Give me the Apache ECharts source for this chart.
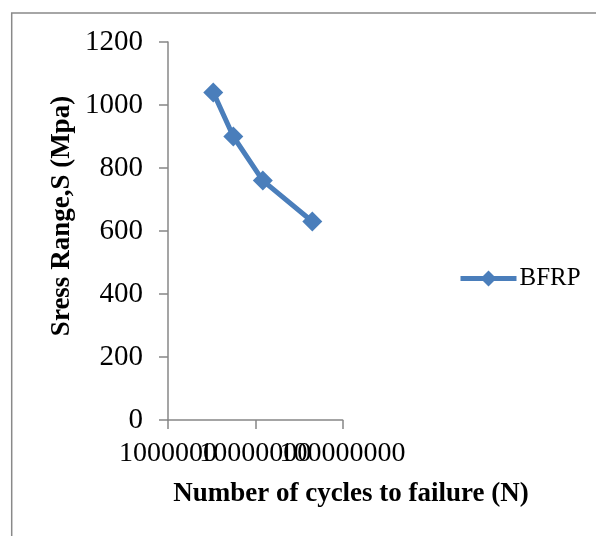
<!DOCTYPE html>
<html>
<head>
<meta charset="utf-8">
<script src="https://cdn.jsdelivr.net/npm/echarts@6/dist/echarts.min.js"></script>
<style>
  html, body { margin: 0; padding: 0; background: #fff; }
  #main { width: 596px; height: 536px; }
</style>
</head>
<body>
<div id="main"></div>
<script>
// S-N data for BFRP
var cycles = [3300000, 5600000, 12200000, 45000000];   // N
var stress = [1040, 900, 760, 630];                      // S (Mpa)
var seriesName = 'BFRP';
var xTicks = [1000000, 10000000, 100000000];
var yMin = 0, yMax = 1200, yStep = 200;

// x axis is logarithmic: plot log10(N) on a value axis, label with N
var points = [];
for (var i = 0; i < cycles.length; i++) {
	points.push([Math.log10(cycles[i]), stress[i]]);
}
var xTickPos = xTicks.map(function (t) { return Math.log10(t); });
var xMin = xTickPos[0], xMax = xTickPos[xTickPos.length - 1];

var axisGray = '#878787';
var serif = '"Liberation Serif", "Times New Roman", serif';

function xLabel(v) {
	var k = Math.round(v - xMin);
	return String(xTicks[k]);
}

// labels overlap like in the original, so the middle one sits on its own axis
function makeXAxis(vals, showLine) {
	return {
		type: 'value',
		min: xMin,
		max: xMax,
		position: 'bottom',
		splitLine: { show: false },
		axisLine: { show: showLine, lineStyle: { color: axisGray, width: 1.5 } },
		axisTick: { show: true, length: 9, customValues: vals, lineStyle: { color: axisGray, width: 1.5 } },
		axisLabel: {
			margin: 20,
			fontFamily: serif,
			fontSize: 28,
			color: '#000',
			customValues: vals,
			showMinLabel: true,
			showMaxLabel: true,
			hideOverlap: false,
			formatter: xLabel
		}
	};
}

var myChart = echarts.init(document.getElementById('main'));
var option = {
	animation: false,
	color: ['#4a7ebb'],
	grid: {
		left: 168,
		top: 42,
		width: 174.6,
		bottom: 116,
		containLabel: false
	},
	legend: {
		left: 453,
		top: 261,
		itemWidth: 56,
		itemHeight: 20,
		itemGap: 4,
		lineStyle: { width: 5 },
		textStyle: { fontFamily: serif, fontSize: 25, color: '#000', padding: [0, 0, 0, -2] },
		data: [seriesName]
	},
	xAxis: [
		makeXAxis([xTickPos[0], xTickPos[2]], true),
		makeXAxis([xTickPos[1]], false)
	],
	yAxis: {
		type: 'value',
		min: yMin,
		max: yMax,
		interval: yStep,
		splitLine: { show: false },
		axisLine: { show: true, lineStyle: { color: axisGray, width: 1.5 } },
		axisTick: { show: true, length: 9, lineStyle: { color: axisGray, width: 1.5 } },
		axisLabel: {
			margin: 25,
			fontFamily: serif,
			fontSize: 29,
			color: '#000',
			formatter: function (v) { return String(v); }
		}
	},
	graphic: [
		{
			type: 'rect',
			silent: true,
			shape: { x: 11.7, y: 13, width: 700, height: 700 },
			style: { fill: 'none', stroke: '#898989', lineWidth: 1.5 }
		},
		{
			type: 'text',
			x: 62,
			y: 216,
			rotation: Math.PI / 2,
			style: {
				text: 'Sress Range,S (Mpa)',
				font: 'bold 27px ' + serif,
				fill: '#000',
				align: 'center',
				verticalAlign: 'middle'
			}
		},
		{
			type: 'text',
			x: 351,
			y: 494,
			style: {
				text: 'Number of cycles to failure (N)',
				font: 'bold 27px ' + serif,
				fill: '#000',
				align: 'center',
				verticalAlign: 'middle'
			}
		}
	],
	series: [
		{
			name: seriesName,
			type: 'line',
			xAxisIndex: 0,
			data: points,
			symbol: 'diamond',
			symbolSize: 20,
			lineStyle: { width: 5 },
			itemStyle: { color: '#4a7ebb' }
		}
	]
};
myChart.setOption(option);
</script>
</body>
</html>
